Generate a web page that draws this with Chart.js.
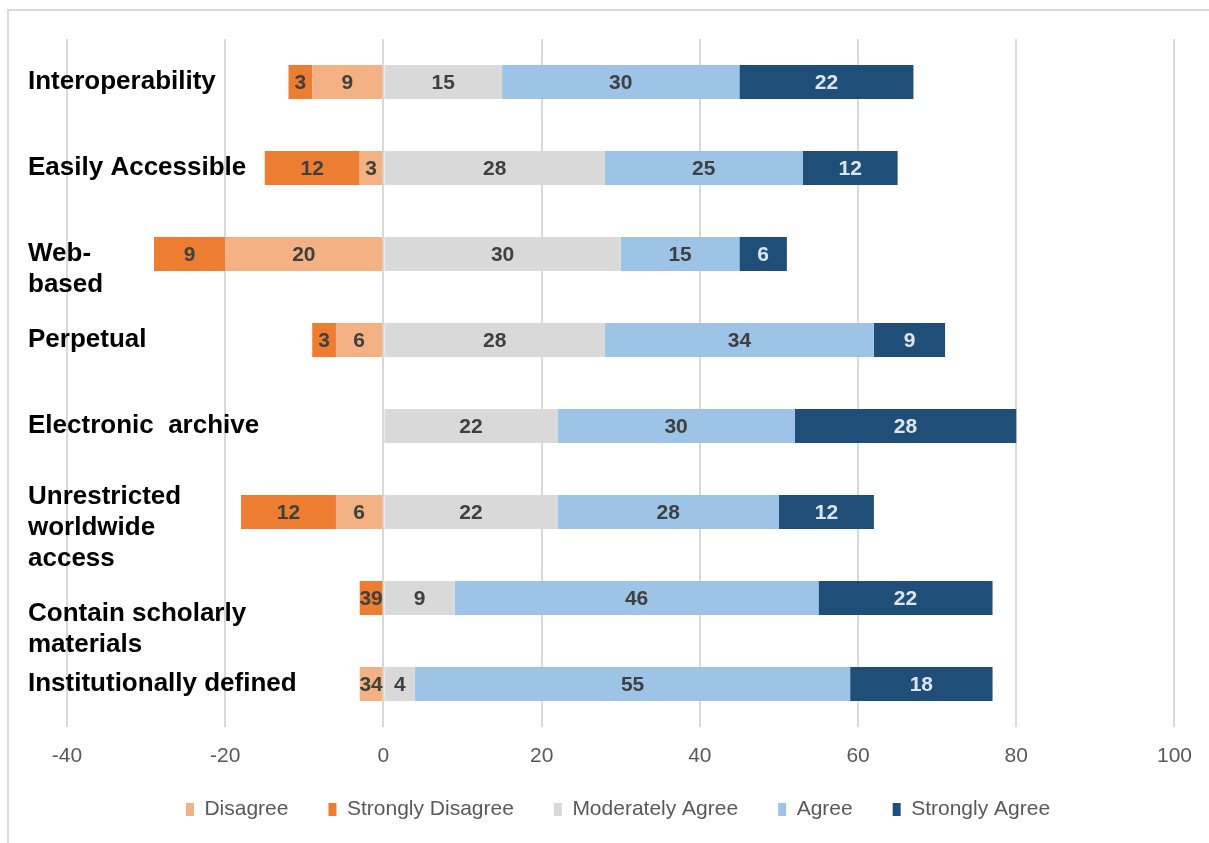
<!DOCTYPE html>
<html>
<head>
<meta charset="utf-8">
<script src="https://cdn.jsdelivr.net/npm/chart.js@4.4.0/dist/chart.umd.min.js"></script>
<style>
html,body{margin:0;padding:0;background:#fff;}
#wrap{position:relative;width:1209px;height:843px;overflow:hidden;}
#frame{position:absolute;left:7px;top:9px;width:1220px;height:850px;border-left:2px solid #d9d9d9;border-top:2px solid #d9d9d9;}
canvas{position:absolute;left:0;top:0;}
</style>
</head>
<body>
<div id="wrap"><div id="frame"></div><canvas id="c" width="1209" height="843"></canvas></div>
<script>
// ---- data ----
const categories = [
  'Interoperability',
  'Easily Accessible',
  ['', 'Web-', 'based'],
  'Perpetual',
  'Electronic  archive',
  ['', 'Unrestricted', 'worldwide', 'access'],
  ['', '', 'Contain scholarly', 'materials'],
  'Institutionally defined'
];
const seriesNames = ['Disagree', 'Strongly Disagree', 'Moderately Agree', 'Agree', 'Strongly Agree'];
const disagree         = [-9, -3, -20, -6, 0, -6, 0, -3];
const stronglyDisagree = [-3, -12, -9, -3, 0, -12, -3, 0];
const moderatelyAgree  = [15, 28, 30, 28, 22, 22, 9, 4];
const agree            = [30, 25, 15, 34, 30, 28, 46, 55];
const stronglyAgree    = [22, 12, 6, 9, 28, 12, 22, 18];
// data labels as shown in the picture
const disagreeLabels         = ['9', '3', '20', '6', '', '6', '', '34'];
const stronglyDisagreeLabels = ['3', '12', '9', '3', '', '12', '39', ''];
const xTicks = [-40, -20, 0, 20, 40, 60, 80, 100];

const FONT = '"Liberation Sans", Arial, sans-serif';
const fromValues = arr => arr.map(v => v ? String(Math.abs(v)) : '');

const segLabels = {
  id: 'segLabels',
  afterDatasetsDraw(chart) {
    const ctx = chart.ctx;
    ctx.save();
    ctx.font = 'bold 21px ' + FONT;
    ctx.textAlign = 'center';
    ctx.textBaseline = 'middle';
    chart.data.datasets.forEach((ds, i) => {
      const meta = chart.getDatasetMeta(i);
      meta.data.forEach((bar, j) => {
        const txt = ds.segLabels[j];
        if (!txt) return;
        const p = bar.getProps(['x', 'base', 'y'], true);
        ctx.fillStyle = ds.labelColor;
        ctx.fillText(txt, (p.x + p.base) / 2, p.y + 1);
      });
    });
    ctx.restore();
  }
};

// lift the legend a little so it sits where the reference has it
const legendNudge = {
  id: 'legendNudge',
  afterLayout(chart) {
    const lg = chart.legend;
    if (lg) { lg.top -= 10; lg.bottom -= 10; }
  }
};

const mk = (label, data, color, labels, labelColor) => ({
  label, data, backgroundColor: color, borderWidth: 0, stack: 's',
  categoryPercentage: 0.395, barPercentage: 1,
  segLabels: labels, labelColor
});

new Chart(document.getElementById('c'), {
  type: 'bar',
  data: {
    labels: categories,
    datasets: [
      mk(seriesNames[0], disagree, '#F4B183', disagreeLabels, '#404040'),
      mk(seriesNames[1], stronglyDisagree, '#ED7D31', stronglyDisagreeLabels, '#404040'),
      mk(seriesNames[2], moderatelyAgree, '#D9D9D9', fromValues(moderatelyAgree), '#404040'),
      mk(seriesNames[3], agree, '#9DC3E6', fromValues(agree), '#404040'),
      mk(seriesNames[4], stronglyAgree, '#1F4E79', fromValues(stronglyAgree), '#DCE4EE')
    ]
  },
  options: {
    indexAxis: 'y',
    responsive: false,
    animation: false,
    devicePixelRatio: 1,
    layout: { padding: { left: 56, right: 29, top: 39, bottom: 3 } },
    scales: {
      x: {
        stacked: true,
        min: xTicks[0], max: xTicks[xTicks.length - 1],
        afterBuildTicks(s) { s.ticks = xTicks.map(v => ({ value: v })); },
        afterFit(s) { s.height = 42; },
        ticks: { color: '#595959', font: { family: FONT, size: 21 }, padding: 17 },
        grid: { color: '#D9D9D9', lineWidth: 2, drawTicks: false },
        border: { display: false }
      },
      y: {
        stacked: true,
        grid: { display: false },
        border: { display: false },
        afterFit(s) { s.width = 11; },
        ticks: {
          autoSkip: false,
          mirror: true,
          crossAlign: 'near',
          padding: -39,
          color: '#000000',
          font: { family: FONT, size: 26, weight: 'bold', lineHeight: 1.2 }
        }
      }
    },
    plugins: {
      legend: {
        position: 'bottom',
        labels: {
          boxWidth: 8, boxHeight: 13, padding: 40,
          color: '#595959',
          font: { family: FONT, size: 21 }
        }
      },
      tooltip: { enabled: false }
    }
  },
  plugins: [segLabels, legendNudge]
});
</script>
</body>
</html>
